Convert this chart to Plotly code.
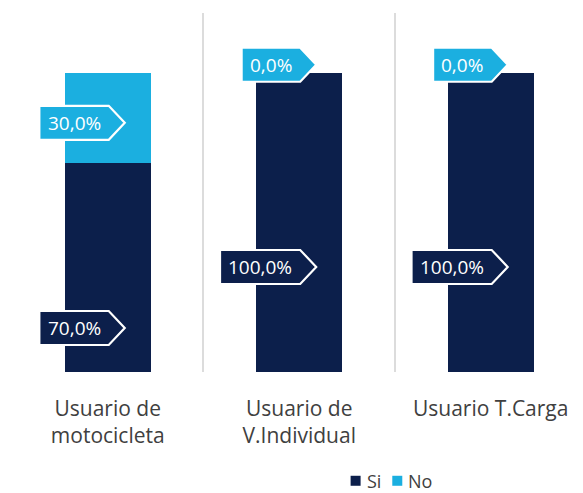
import plotly.graph_objects as go

categories = ["Usuario de<br>motocicleta", "Usuario de<br>V.Individual", "Usuario T.Carga"]
si_values = [70.0, 100.0, 100.0]
no_values = [30.0, 0.0, 0.0]
series_names = ["Si", "No"]

# label anchor heights (in % units) for the arrow callouts
si_label_y = [14.7, 35.1, 35.1]
no_label_y = [83.3, 102.7, 102.7]

NAVY = "#0c1f4b"
CYAN = "#1bafe0"
TEXT = "#404040"
FONT = "Open Sans"

def fmt(v):
    return f"{v:.1f}".replace(".", ",") + "%"

CHAR_W = {",": 5.0, "%": 16.0}
def text_px(s):
    return sum(CHAR_W.get(c, 10.8) for c in s)

fig = go.Figure()
colors = [NAVY, CYAN]
for name, vals, col in zip(series_names, (si_values, no_values), colors):
    fig.add_trace(go.Bar(x=categories, y=vals, name=name,
                         marker=dict(color=col, line=dict(width=0)), width=0.45,
                         showlegend=False))

shapes = []
annotations = []
H = 17  # half height px
ARROW = 16
TIP = 17  # tip offset from bar centre, px
for vals, ys, color in ((si_values, si_label_y, NAVY), (no_values, no_label_y, CYAN)):
    for i, (v, yv) in enumerate(zip(vals, ys)):
        txt = fmt(v)
        w = text_px(txt) + 16
        right = TIP - ARROW
        left = right - w
        path = (f"M{left},{-H} L{right},{-H} L{TIP},0 L{right},{H} "
                f"L{left},{H} Z")
        shapes.append(dict(type="path", xref="x", yref="y",
                           xsizemode="pixel", ysizemode="pixel",
                           xanchor=i, yanchor=yv, path=path,
                           fillcolor=color, line=dict(color="white", width=2.2),
                           layer="above"))
        annotations.append(dict(x=i, y=yv, xref="x", yref="y", text=txt,
                                showarrow=False, xanchor="center",
                                xshift=(left + right) / 2,
                                font=dict(family=FONT, size=19, color="white")))

# manual legend (square + text), placed below the plot
leg_x = [0.593, 0.666]   # paper x of each square's left edge
leg_y = -0.303           # paper y of legend centre
for name, col, lx in zip(series_names, colors, leg_x):
    shapes.append(dict(type="rect", xref="paper", yref="paper",
                       xsizemode="pixel", ysizemode="pixel",
                       xanchor=lx, yanchor=leg_y, x0=0, x1=10, y0=-5, y1=5,
                       fillcolor=col, line=dict(width=0)))
    annotations.append(dict(x=lx, y=leg_y, xref="paper", yref="paper",
                            text=name, showarrow=False, xanchor="left",
                            yanchor="middle", xshift=14,
                            font=dict(family=FONT, size=18, color=TEXT)))

fig.update_layout(
    barmode="stack",
    width=583, height=493,
    margin=dict(l=12, r=0, t=13, b=121),
    plot_bgcolor="white", paper_bgcolor="white",
    font=dict(family=FONT, color=TEXT),
    shapes=shapes,
    annotations=annotations,
    showlegend=False,
    xaxis=dict(type="category", range=[-0.5, 2.482], tickson="boundaries",
               showgrid=True, gridcolor="#dcdcdc", gridwidth=1.5,
               ticks="", showline=False, zeroline=False, automargin=False,
               tickfont=dict(size=21, color=TEXT), ticklabelstandoff=22),
    yaxis=dict(range=[0, 120], visible=False, showgrid=False, automargin=False),
)

fig.write_html("out.html", config={"displayModeBar": False},
               post_script="document.body.style.margin='0';document.body.style.overflow='hidden';")
